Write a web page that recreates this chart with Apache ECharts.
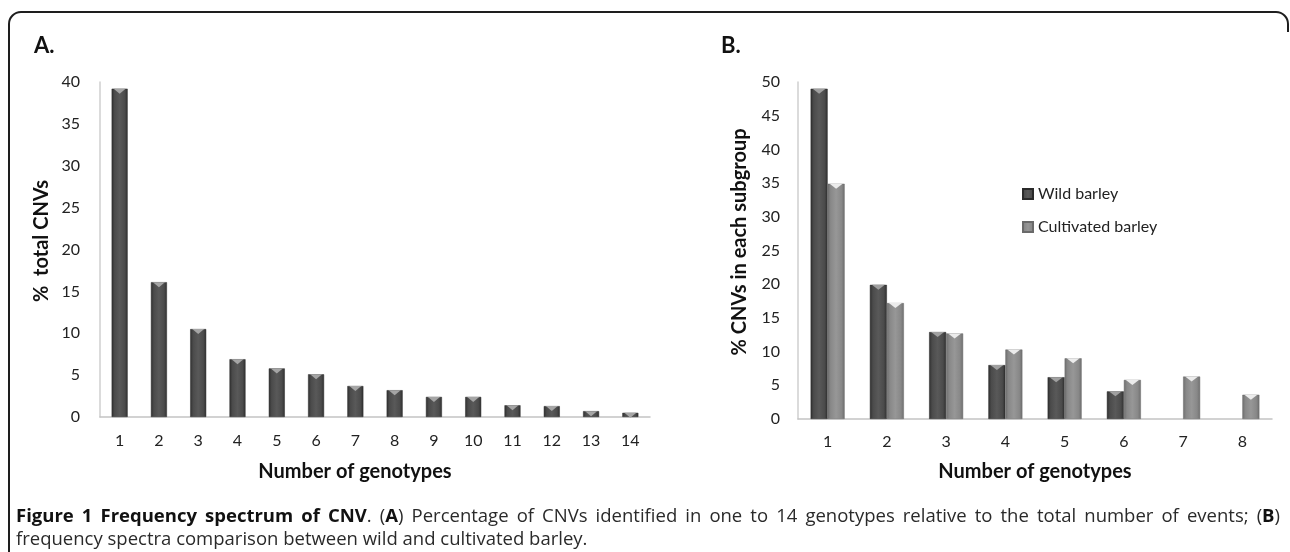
<!DOCTYPE html>
<html>
<head>
<meta charset="utf-8">
<script src="https://cdn.jsdelivr.net/npm/echarts@6/dist/echarts.min.js"></script>
<style>
  html, body { margin: 0; padding: 0; background: #fff; }
  #chart { width: 1290px; height: 552px; }
</style>
</head>
<body>
<div id="chart"></div>
<script>
// ---- Data ----
const genotypesA = ['1','2','3','4','5','6','7','8','9','10','11','12','13','14'];
const totalCNVsA = [39.2, 16.1, 10.5, 6.9, 5.8, 5.1, 3.7, 3.2, 2.4, 2.4, 1.4, 1.3, 0.7, 0.5];

const genotypesB = ['1','2','3','4','5','6','7','8'];
const wildBarley = [49.0, 19.9, 12.9, 8.0, 6.2, 4.1, null, null];
const cultivatedBarley = [34.9, 17.2, 12.7, 10.3, 9.0, 5.8, 6.3, 3.6];

const seriesNames = ['Wild barley', 'Cultivated barley'];
const panelLabels = ['A.', 'B.'];
const yTitles = ['%  total CNVs', '% CNVs in each subgroup'];
const xTitle = 'Number of genotypes';
// ** toggles bold
const captionLine1 = '**Figure 1 Frequency spectrum of CNV**. (**A**) Percentage of CNVs identified in one to 14 genotypes relative to the total number of events; (**B**)';
const captionLine2 = 'frequency spectra comparison between wild and cultivated barley.';

// ---- Styles ----
const FONT = 'Lato';
const CAP_SIZE = 18.5;
const CAP_B = 'bold ' + CAP_SIZE + 'px "Open Sans"';
const CAP_N = CAP_SIZE + 'px "Open Sans"';

const darkGrad = new echarts.graphic.LinearGradient(0, 0, 1, 0, [
  { offset: 0, color: '#2f2f2f' }, { offset: 0.18, color: '#4b4b4b' },
  { offset: 0.5, color: '#595959' }, { offset: 0.82, color: '#4b4b4b' },
  { offset: 1, color: '#2f2f2f' }
]);
const lightGrad = new echarts.graphic.LinearGradient(0, 0, 1, 0, [
  { offset: 0, color: '#6e6e6e' }, { offset: 0.18, color: '#888888' },
  { offset: 0.5, color: '#979797' }, { offset: 0.82, color: '#888888' },
  { offset: 1, color: '#6e6e6e' }
]);
const chevron = 'path://M0,0 L10,0 L5,5 Z';

function xAx(idx, data, margin) {
  return {
    type: 'category', gridIndex: idx, data: data,
    axisLine: { lineStyle: { color: '#c4c4c4', width: 1.5 } },
    axisTick: { show: false },
    axisLabel: { margin: margin, fontSize: 16, color: '#222', fontFamily: FONT }
  };
}
function yAx(idx, max, margin) {
  return {
    type: 'value', gridIndex: idx, min: 0, max: max, interval: 5,
    axisLine: { show: true, lineStyle: { color: '#cfcfcf', width: 1.5 } },
    axisTick: { show: false },
    splitLine: { show: false },
    axisLabel: { margin: margin, fontSize: 16, color: '#222', fontFamily: FONT }
  };
}

// ---- Caption layout (justified first line) ----
const measureCtx = document.createElement('canvas').getContext('2d');
function measure(text, font) { measureCtx.font = font; return measureCtx.measureText(text).width; }
function parseWords(str) {
  const words = []; let bold = false; let cur = []; let seg = '';
  const flushSeg = () => { if (seg) { cur.push([seg, bold]); seg = ''; } };
  for (let i = 0; i < str.length; i++) {
    if (str[i] === '*' && str[i + 1] === '*') { flushSeg(); bold = !bold; i++; continue; }
    if (str[i] === ' ') { flushSeg(); if (cur.length) words.push(cur); cur = []; continue; }
    seg += str[i];
  }
  flushSeg(); if (cur.length) words.push(cur);
  return words;
}
function captionGraphics(line, x0, x1, y) {
  const words = parseWords(line);
  const widths = words.map(w => w.reduce((s, p) => s + measure(p[0], p[1] ? CAP_B : CAP_N), 0));
  const total = widths.reduce((a, b) => a + b, 0);
  const gap = Math.max(3, (x1 - x0 - total) / (words.length - 1));
  const out = []; let x = x0;
  words.forEach((w, i) => {
    out.push({ type: 'text', x: x, y: y, style: {
      text: w.map(p => '{' + (p[1] ? 'b' : 'n') + '|' + p[0] + '}').join(''),
      verticalAlign: 'middle',
      rich: { b: { font: CAP_B, fill: '#111' }, n: { font: CAP_N, fill: '#2a2a2a' } }
    } });
    x += widths[i] + gap;
  });
  return out;
}

const frameStyle = { stroke: '#1e1e1e', lineWidth: 2, fill: null };
const frame = [
  { type: 'line', shape: { x1: 9, y1: 560, x2: 9, y2: 24 }, style: frameStyle, z: 100 },
  { type: 'line', shape: { x1: 21, y1: 12, x2: 1276, y2: 12 }, style: frameStyle, z: 100 },
  { type: 'line', shape: { x1: 1288, y1: 24, x2: 1288, y2: 32 }, style: frameStyle, z: 100 },
  { type: 'arc', shape: { cx: 21, cy: 24, r: 12, startAngle: Math.PI, endAngle: Math.PI * 1.5, clockwise: true }, style: frameStyle, z: 100 },
  { type: 'arc', shape: { cx: 1276, cy: 24, r: 12, startAngle: Math.PI * 1.5, endAngle: Math.PI * 2, clockwise: true }, style: frameStyle, z: 100 }
];

const chart = echarts.init(document.getElementById('chart'), null, { renderer: 'canvas' });
chart.setOption({
  animation: false,
  backgroundColor: '#fff',
  grid: [
    { left: 100, right: 640, top: 82, bottom: 135 },
    { left: 798, right: 18, top: 82, bottom: 133 }
  ],
  xAxis: [xAx(0, genotypesA, 16), xAx(1, genotypesB, 15)],
  yAxis: [yAx(0, 40, 20), yAx(1, 50, 18)],
  legend: {
    data: seriesNames, orient: 'vertical', left: 1017, top: 181,
    itemWidth: 10, itemHeight: 10, itemGap: 17, icon: 'rect',
    textStyle: { fontSize: 16, color: '#222', fontFamily: FONT }
  },
  series: [
    { type: 'bar', xAxisIndex: 0, yAxisIndex: 0, data: totalCNVsA, barWidth: 16,
      itemStyle: { color: darkGrad, borderColor: '#2a2a2a', borderWidth: 0.5 } },
    { type: 'pictorialBar', xAxisIndex: 0, yAxisIndex: 0, data: totalCNVsA, barWidth: 16,
      symbol: chevron, symbolSize: [12, 5], symbolPosition: 'end', z: 5,
      itemStyle: { color: '#a5a5a5' } },
    { name: seriesNames[0], type: 'bar', xAxisIndex: 1, yAxisIndex: 1, data: wildBarley,
      barWidth: 17, barGap: 0, itemStyle: { color: darkGrad, borderColor: '#2a2a2a', borderWidth: 0.5 } },
    { name: seriesNames[1], type: 'bar', xAxisIndex: 1, yAxisIndex: 1, data: cultivatedBarley,
      barWidth: 17, barGap: 0, itemStyle: { color: lightGrad, borderColor: '#6a6a6a', borderWidth: 0.5 } },
    { type: 'pictorialBar', xAxisIndex: 1, yAxisIndex: 1, data: wildBarley, barWidth: 17, barGap: 0,
      symbol: chevron, symbolSize: [13, 5], symbolPosition: 'end', z: 5,
      itemStyle: { color: '#a0a0a0' } },
    { type: 'pictorialBar', xAxisIndex: 1, yAxisIndex: 1, data: cultivatedBarley, barWidth: 17, barGap: 0,
      symbol: chevron, symbolSize: [13, 5], symbolPosition: 'end', z: 5,
      itemStyle: { color: '#ececec' } }
  ],
  graphic: frame.concat([
    { type: 'text', x: 34, y: 46, style: { text: panelLabels[0], font: 'bold 22px ' + FONT, fill: '#111', verticalAlign: 'middle' } },
    { type: 'text', x: 721, y: 46, style: { text: panelLabels[1], font: 'bold 22px ' + FONT, fill: '#111', verticalAlign: 'middle' } },
    { type: 'text', x: 42, y: 241, rotation: Math.PI / 2,
      style: { text: yTitles[0], font: 'bold 20px ' + FONT, fill: '#111', align: 'center', verticalAlign: 'middle' } },
    { type: 'text', x: 740, y: 242, rotation: Math.PI / 2,
      style: { text: yTitles[1], font: 'bold 20px ' + FONT, fill: '#111', align: 'center', verticalAlign: 'middle' } },
    { type: 'text', x: 355, y: 472,
      style: { text: xTitle, font: 'bold 20px ' + FONT, fill: '#111', align: 'center', verticalAlign: 'middle' } },
    { type: 'text', x: 1035, y: 472,
      style: { text: xTitle, font: 'bold 20px ' + FONT, fill: '#111', align: 'center', verticalAlign: 'middle' } }
  ]).concat(captionGraphics(captionLine1, 16, 1280, 517)).concat([
    { type: 'text', x: 16, y: 540,
      style: { text: captionLine2, font: CAP_N, fill: '#2a2a2a', verticalAlign: 'middle' } }
  ])
});
</script>
</body>
</html>
